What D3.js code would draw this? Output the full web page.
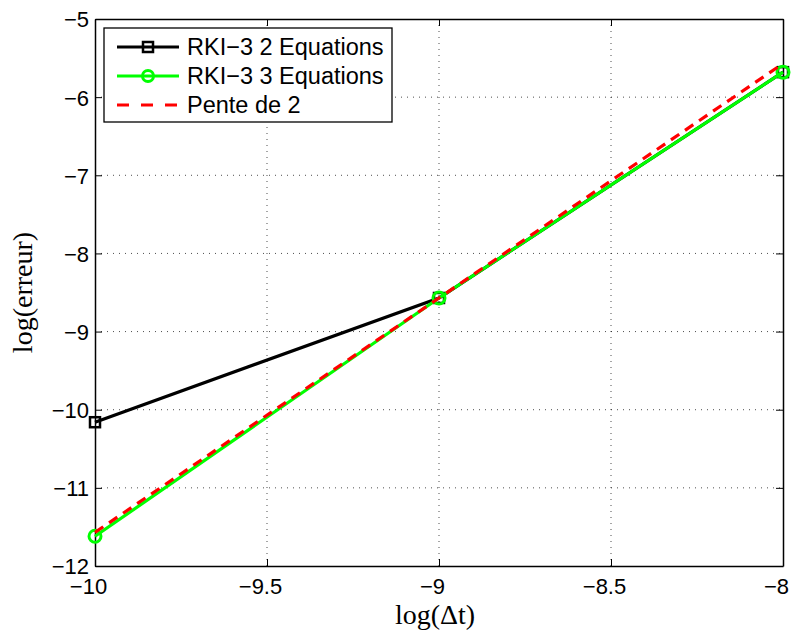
<!DOCTYPE html>
<html><head><meta charset="utf-8">
<script src="https://cdn.jsdelivr.net/npm/d3@7"></script>
<style>body{margin:0;background:#fff}</style>
</head><body>
<svg id="c" width="792" height="630"></svg>
<script>
const logDt = [-10, -9, -8];
const rki2 = [-10.16, -8.57, -5.68];
const rki3 = [-11.62, -8.57, -5.68];
const pente = [-11.57, -8.57, -5.57];
const xTicks = [-10, -9.5, -9, -8.5, -8];
const yTicks = [-12, -11, -10, -9, -8, -7, -6, -5];
const seriesNames = ["RKI\u22123 2 Equations", "RKI\u22123 3 Equations", "Pente de 2"];

const svg = d3.select("#c");
const L = 95, R = 783, T = 19, B = 566;
const x = d3.scaleLinear().domain([-10, -8]).range([L, R]);
const y = d3.scaleLinear().domain([-12, -5]).range([B, T]);
const fmt = v => String(v).replace("-", "\u2212");

// grid
const g = svg.append("g");
g.selectAll(".gx").data(xTicks.slice(1, -1)).enter().append("line")
  .attr("x1", d => x(d)).attr("x2", d => x(d)).attr("y1", T).attr("y2", B)
  .attr("stroke", "#000").attr("stroke-width", 0.7).attr("stroke-dasharray", "1,5");
g.selectAll(".gy").data(yTicks.slice(1, -1)).enter().append("line")
  .attr("y1", d => y(d)).attr("y2", d => y(d)).attr("x1", L).attr("x2", R)
  .attr("stroke", "#000").attr("stroke-width", 0.7).attr("stroke-dasharray", "1,5");

// axes
const font = "'Liberation Sans', Arial, Helvetica, sans-serif";
const ax = svg.append("g").attr("transform", `translate(0,${B})`)
  .call(d3.axisBottom(x).tickValues(xTicks).tickFormat(fmt).tickSizeInner(-7).tickSizeOuter(0).tickPadding(12));
const axT = svg.append("g").attr("transform", `translate(0,${T})`)
  .call(d3.axisTop(x).tickValues(xTicks).tickFormat("").tickSizeInner(-7).tickSizeOuter(0));
const ay = svg.append("g").attr("transform", `translate(${L},0)`)
  .call(d3.axisLeft(y).tickValues(yTicks).tickFormat(fmt).tickSizeInner(-7).tickSizeOuter(0).tickPadding(6));
const ayR = svg.append("g").attr("transform", `translate(${R},0)`)
  .call(d3.axisRight(y).tickValues(yTicks).tickFormat("").tickSizeInner(-7).tickSizeOuter(0));
[ax, axT, ay, ayR].forEach(a => {
  a.select(".domain").attr("stroke", "#000").attr("stroke-width", 1.5);
  a.selectAll(".tick line").attr("stroke", "#000").attr("stroke-width", 1);
  a.selectAll("text").attr("fill", "#000").style("font-family", font).style("font-size", "22px");
});
ax.selectAll("text").attr("dx", -7);
ay.selectAll("text").attr("dy", "0.36em");

// lines
const line = d3.line().x((d, i) => x(logDt[i])).y(d => y(d));
svg.append("path").datum(rki2).attr("d", line).attr("fill", "none")
  .attr("stroke", "#000").attr("stroke-width", 3.2);
svg.selectAll(".sq").data(rki2).enter().append("rect")
  .attr("x", (d, i) => x(logDt[i]) - 5).attr("y", d => y(d) - 5)
  .attr("width", 10).attr("height", 10).attr("fill", "none")
  .attr("stroke", "#000").attr("stroke-width", 2.5);
svg.append("path").datum(rki3).attr("d", line).attr("fill", "none")
  .attr("stroke", "#00ff00").attr("stroke-width", 3.2);
svg.selectAll(".ci").data(rki3).enter().append("circle")
  .attr("cx", (d, i) => x(logDt[i])).attr("cy", d => y(d)).attr("r", 6)
  .attr("fill", "none").attr("stroke", "#00ff00").attr("stroke-width", 3);
svg.append("path").datum(pente).attr("d", line).attr("fill", "none")
  .attr("stroke", "#ff0000").attr("stroke-width", 3.2).attr("stroke-dasharray", "10,7");

// legend
const lg = svg.append("g");
lg.append("rect").attr("x", 104).attr("y", 28).attr("width", 288).attr("height", 94)
  .attr("fill", "#fff").attr("stroke", "#000").attr("stroke-width", 1.3);
const ly = [47, 76, 105];
const lcol = ["#000", "#00ff00", "#ff0000"];
seriesNames.forEach((n, i) => {
  const l = lg.append("line").attr("x1", 117).attr("x2", 179).attr("y1", ly[i]).attr("y2", ly[i])
    .attr("stroke", lcol[i]).attr("stroke-width", 3.2);
  if (i === 2) l.attr("stroke-dasharray", "12,12");
  if (i === 0) lg.append("rect").attr("x", 143).attr("y", ly[i] - 5).attr("width", 10).attr("height", 10)
    .attr("fill", "none").attr("stroke", "#000").attr("stroke-width", 2.5);
  if (i === 1) lg.append("circle").attr("cx", 148).attr("cy", ly[i]).attr("r", 5.5)
    .attr("fill", "none").attr("stroke", "#00ff00").attr("stroke-width", 3);
  lg.append("text").attr("x", 187).attr("y", ly[i]).attr("dy", "0.36em").text(n)
    .style("font-family", font).style("font-size", "23.5px").attr("fill", "#000");
});

// axis labels
const serif = "'Liberation Serif', 'DejaVu Serif', serif";
svg.append("text").attr("x", 435).attr("y", 624).attr("text-anchor", "middle")
  .style("font-family", serif).style("font-size", "28px").text("log(\u0394t)");
svg.append("text").attr("transform", `translate(32,${(T + B) / 2}) rotate(-90)`).attr("text-anchor", "middle")
  .style("font-family", serif).style("font-size", "28px").text("log(erreur)");
</script>
</body></html>
